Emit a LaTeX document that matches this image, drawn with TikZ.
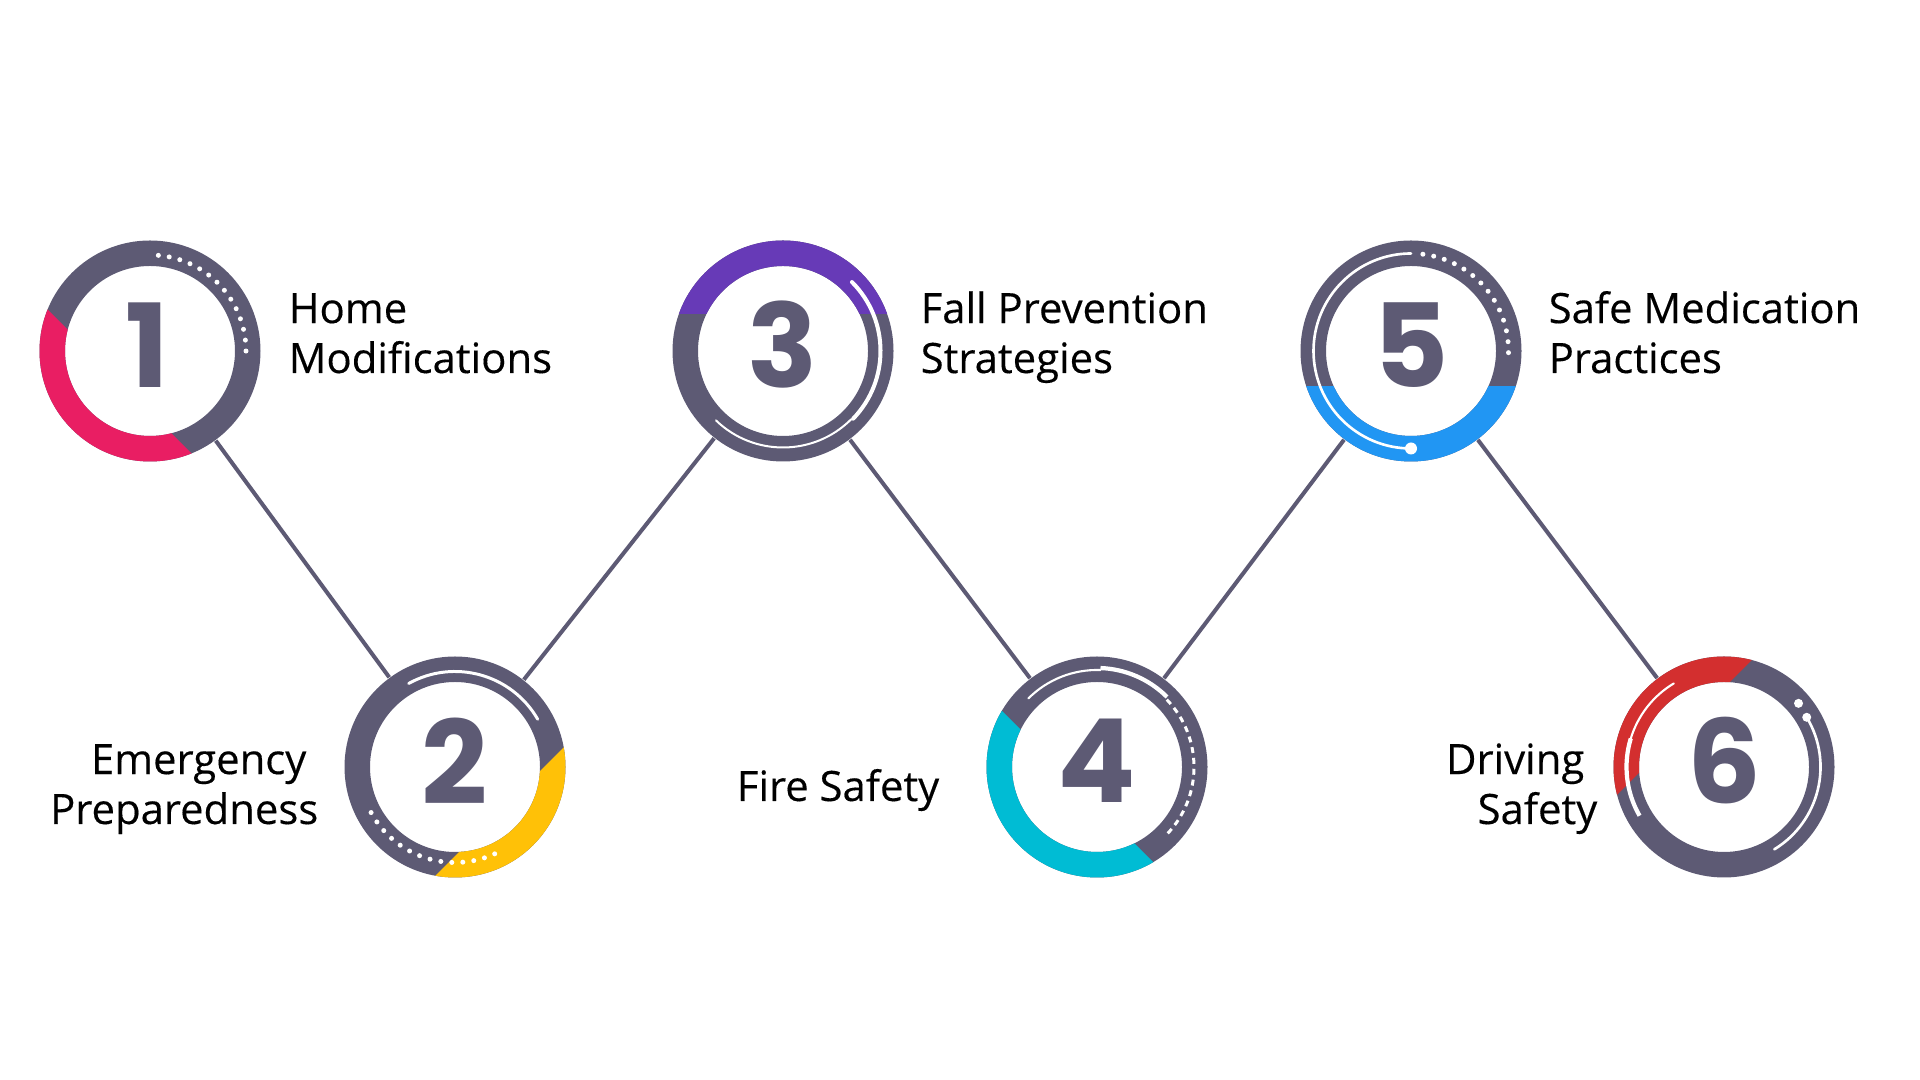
\documentclass[tikz,border=0pt]{standalone}
\usepackage{fontspec}
\setmainfont{Open Sans}[FakeBold=0.3]
\newfontfamily\numfont{Poppins}
\definecolor{ringgray}{HTML}{5D5A74}
\definecolor{stepPink}{HTML}{E91E63}
\definecolor{stepYellow}{HTML}{FFC107}
\definecolor{stepPurple}{HTML}{673AB7}
\definecolor{stepCyan}{HTML}{00BCD4}
\definecolor{stepBlue}{HTML}{2196F3}
\definecolor{stepRed}{HTML}{D32F2F}
\tikzset{
  ring/.style={circle, minimum size=2.21cm, inner sep=0pt},
  numtext/.style={font=\numfont\bfseries\fontsize{33}{33}\selectfont, text=ringgray, inner sep=0pt, yshift=0.06cm},
  steptext/.style={font=\fontsize{11.9}{14.2}\selectfont, inner sep=0pt},
  link/.style={ringgray, line width=1.14pt},
  shine/.style={white, line cap=round}
}
% ring: #1 centre, #2 colour, #3 turn, #4 cut
\newcommand{\stepring}[4]{%
  \fill[ringgray, even odd rule] (#1) circle (1.105) circle (0.85);
  \begin{scope}[shift={(#1)}, rotate=#3]
    \clip (-1.3,-1.3) rectangle (1.3,-#4);
    \fill[#2, even odd rule] (0,0) circle (1.105) circle (0.85);
  \end{scope}}
\begin{document}
\begin{tikzpicture}
\useasboundingbox (0,0) rectangle (19.2,10.8);
\node[ring] (s1) at (1.50,7.29) {};
\node[ring] (s2) at (4.55,3.13) {};
\node[ring] (s3) at (7.83,7.29) {};
\node[ring] (s4) at (10.97,3.13) {};
\node[ring] (s5) at (14.11,7.29) {};
\node[ring] (s6) at (17.24,3.13) {};
\draw[link] (s1) -- (s2) -- (s3) -- (s4) -- (s5) -- (s6);
% rings
\stepring{s1}{stepPink}{-45}{0.43}
\stepring{s2}{stepYellow}{45}{0.63}
\stepring{s3}{stepPurple}{180}{0.375}
\stepring{s4}{stepCyan}{-45}{0.275}
\stepring{s5}{stepBlue}{0}{0.36}
\stepring{s6}{stepRed}{-135}{0.56}
% white details
\begin{scope}[shift={(s1)}]
  \foreach \i in {0,...,13} \fill[white] ({85-\i*6.54}:0.96) circle (0.025);
\end{scope}
\begin{scope}[shift={(s2)}]
  \draw[shine, line width=0.85pt] (119:0.955) arc[start angle=119, end angle=30, radius=0.955];
  \foreach \i in {0,...,13} \fill[white] ({208.5+\i*6.62}:0.955) circle (0.025);
\end{scope}
\begin{scope}[shift={(s3)}]
  \draw[shine, line width=1.14pt] (45:0.975) arc[start angle=45, end angle=-44, radius=0.975];
  \draw[shine, line width=0.57pt] (-45:0.965) arc[start angle=-45, end angle=-134, radius=0.965];
\end{scope}
\begin{scope}[shift={(s4)}]
  \draw[shine, line width=0.6pt] (135:0.97) arc[start angle=135, end angle=88, radius=0.97];
  \draw[white, line width=1.2pt] (88:0.99) arc[start angle=88, end angle=45, radius=0.99];
  \draw[white, line width=0.85pt, dash pattern=on 1.7pt off 1.4pt] (44:0.97) arc[start angle=44, end angle=-44, radius=0.97];
\end{scope}
\begin{scope}[shift={(s5)}]
  \draw[shine, line width=0.75pt] (90:0.975) arc[start angle=90, end angle=270, radius=0.975];
  \fill[white] (270:0.975) circle (0.06);
  \foreach \i in {0,...,13} \fill[white] ({83-\i*6.46}:0.975) circle (0.025);
\end{scope}
\begin{scope}[shift={(s6)}]
  \draw[shine, line width=0.6pt] (121:0.975) arc[start angle=121, end angle=163, radius=0.975];
  \draw[white, line width=1.2pt] (163:0.975) arc[start angle=163, end angle=210, radius=0.975];
  \fill[white] (40.5:0.98) circle (0.045);
  \fill[white] (31:0.965) circle (0.045);
  \draw[shine, line width=0.75pt] (31:0.965) arc[start angle=31, end angle=-58.6, radius=0.965];
\end{scope}
% numbers
\node[numtext, xshift=-0.03cm] (d1) at (s1) {1};
\node[numtext] (d2) at (s2) {2};
\node[numtext] (d3) at (s3) {3};
\node[numtext] (d4) at (s4) {4};
\node[numtext] (d5) at (s5) {5};
\node[numtext] (d6) at (s6) {6};
% labels
\node[steptext, anchor=base west, align=left] (t1) at (2.88,7.07) {Home\\Modifications};
\node[steptext, anchor=base east, align=right] (t2) at (3.19,2.56) {Emergency\hspace*{0.12cm}\\Preparedness};
\node[steptext, anchor=base west, align=left] (t3) at (9.20,7.07) {Fall Prevention\\Strategies};
\node[steptext, anchor=base east] (t4) at (9.40,2.79) {Fire Safety};
\node[steptext, anchor=base west, align=left] (t5) at (15.48,7.07) {Safe Medication\\Practices};
\node[steptext, anchor=base east, align=right] (t6) at (15.98,2.56) {Driving\hspace*{0.13cm}\\Safety};
\end{tikzpicture}
\end{document}
